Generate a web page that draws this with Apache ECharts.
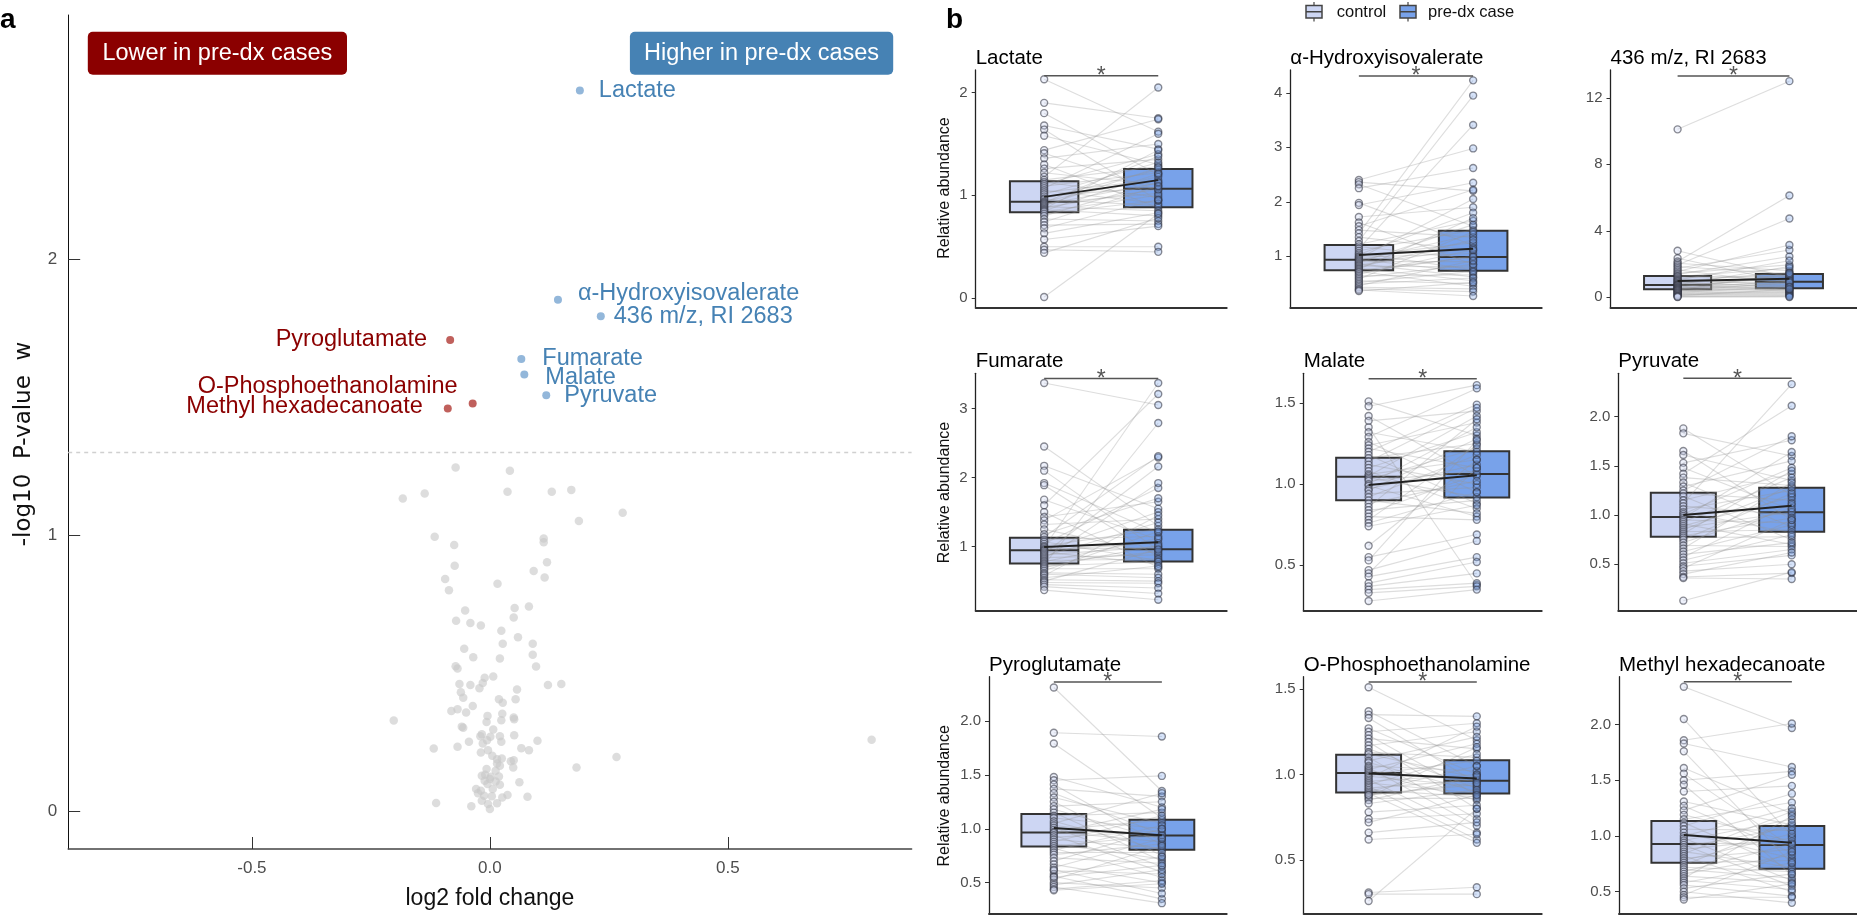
<!DOCTYPE html>
<html><head><meta charset="utf-8">
<script src="https://cdn.jsdelivr.net/npm/echarts@6/dist/echarts.min.js"></script>
<style>html,body{margin:0;padding:0;background:#fff}#c{width:1857px;height:915px}</style>
</head><body><div id="c"></div>
<script>
// ================= Panel a : volcano data =================
const otherPoints = [[-0.072,1.246],[0.042,1.234],[-0.183,1.134],[-0.137,1.152],[0.037,1.158],[0.130,1.158],[0.171,1.165],[0.279,1.082],[0.187,1.052],[-0.116,0.995],[-0.075,0.965],[0.113,0.989],[0.113,0.975],[0.120,0.902],[-0.074,0.890],[0.092,0.871],[0.115,0.847],[-0.094,0.842],[0.016,0.824],[-0.086,0.801],[-0.052,0.727],[0.052,0.736],[0.082,0.742],[0.050,0.702],[-0.071,0.690],[-0.041,0.682],[-0.019,0.673],[0.024,0.654],[0.059,0.630],[0.027,0.607],[0.090,0.607],[-0.054,0.589],[-0.035,0.558],[0.021,0.553],[0.090,0.567],[-0.072,0.525],[-0.068,0.517],[0.097,0.524],[0.007,0.488],[-0.011,0.483],[-0.064,0.461],[-0.041,0.457],[-0.022,0.445],[-0.015,0.464],[0.057,0.441],[0.122,0.457],[0.150,0.461],[-0.061,0.431],[-0.056,0.411],[0.019,0.405],[0.054,0.405],[0.027,0.393],[-0.036,0.381],[-0.068,0.369],[-0.081,0.363],[-0.050,0.357],[0.026,0.353],[-0.005,0.345],[0.050,0.339],[0.051,0.333],[-0.202,0.328],[0.024,0.329],[-0.007,0.323],[-0.059,0.306],[-0.056,0.302],[0.007,0.296],[-0.017,0.278],[-0.020,0.271],[0.001,0.269],[0.021,0.271],[0.051,0.275],[-0.006,0.257],[-0.044,0.251],[0.100,0.255],[0.024,0.251],[-0.015,0.245],[-0.068,0.233],[-0.118,0.227],[0.066,0.228],[0.082,0.220],[-0.004,0.220],[-0.019,0.212],[0.005,0.200],[0.015,0.188],[0.025,0.190],[0.050,0.184],[0.044,0.180],[0.266,0.196],[0.802,0.258],[0.015,0.172],[0.021,0.164],[0.182,0.158],[0.049,0.158],[-0.007,0.152],[0.012,0.146],[-0.010,0.131],[-0.017,0.128],[0.002,0.124],[0.019,0.125],[0.000,0.116],[-0.011,0.110],[0.012,0.107],[0.062,0.104],[-0.005,0.098],[0.021,0.095],[-0.029,0.080],[-0.019,0.073],[0.006,0.080],[0.037,0.058],[0.026,0.049],[-0.012,0.055],[0.004,0.053],[0.079,0.052],[-0.113,0.029],[-0.039,0.017],[0.000,0.007],[0.015,0.028],[-0.017,0.037],[-0.004,0.025],[-0.025,0.064]];
const sigNames = ['Lactate','α-Hydroxyisovalerate','436 m/z, RI 2683','Pyroglutamate','Fumarate','Malate','Pyruvate','O-Phosphoethanolamine','Methyl hexadecanoate'];
const sigLog2FC = [0.189,0.143,0.233,-0.0835,0.066,0.0723,0.1184,-0.0362,-0.0885];
const sigNegLog10P = [2.614,1.855,1.795,1.709,1.640,1.584,1.508,1.478,1.460];
const sigDirection = ['up','up','up','down','up','up','up','down','down'];
const pThreshold = 1.301;
const volcanoXTicks = [-0.5, 0, 0.5];
const volcanoYTicks = [0, 1, 2];

// ================= Panel b : paired box plot data =================
const panelTitles = ['Lactate','α-Hydroxyisovalerate','436 m/z, RI 2683','Fumarate','Malate','Pyruvate','Pyroglutamate','O-Phosphoethanolamine','Methyl hexadecanoate'];
const groupNames = ['control','pre-dx case'];
const controlQ1     = [0.836,0.742,0.48,0.754,0.901,0.78,0.836,0.895,0.76];
const controlMedian = [0.937,0.937,0.74,0.948,1.045,0.98,0.966,1.009,0.928];
const controlQ3     = [1.138,1.207,1.28,1.13,1.162,1.227,1.136,1.115,1.135];
const caseQ1        = [0.885,0.735,0.54,0.783,0.918,0.83,0.805,0.889,0.706];
const caseMedian    = [1.063,0.987,0.94,0.962,1.062,1.027,0.938,0.963,0.919];
const caseQ3        = [1.256,1.47,1.40,1.246,1.203,1.277,1.083,1.084,1.09];
const controlMean   = [0.985,1.023,0.98,0.996,0.994,1.0,1.006,1.006,1.01];
const caseMean      = [1.148,1.139,1.12,1.064,1.055,1.095,0.94,0.977,0.94];
const sigBarY       = [2.163,4.31,13.31,3.435,1.65,2.39,2.362,1.541,2.384];
const yAxisMin      = [-0.09,0.062,-0.6,0.072,0.22,0.028,0.216,0.188,0.306];
const yAxisMax      = [2.22,4.42,13.67,3.51,1.683,2.44,2.41,1.572,2.43];
const yTickValues   = [[0,1,2],[1,2,3,4],[0,4,8,12],[1,2,3],[0.5,1,1.5],[0.5,1,1.5,2],[0.5,1,1.5,2],[0.5,1,1.5],[0.5,1,1.5,2]];
const yTickDecimals = [0,0,0,0,1,1,1,1,1];

const lactateControl = [2.13,1.90,1.80,1.68,1.64,1.58,1.44,1.41,1.36,1.30,1.26,1.22,1.18,1.15,1.13,1.11,1.09,1.07,1.05,1.03,1.01,0.99,0.97,0.96,0.94,0.93,0.92,0.91,0.90,0.89,0.88,0.87,0.86,0.85,0.84,0.82,0.80,0.77,0.74,0.71,0.68,0.63,0.57,0.50,0.47,0.44,0.01];
const lactateCase    = [1.62,1.75,1.20,1.45,0.95,1.30,1.74,1.05,1.50,0.88,1.35,1.10,2.05,1.28,0.98,1.40,1.22,1.60,0.92,1.15,1.32,1.08,1.25,0.90,1.18,1.38,1.02,1.12,1.27,0.85,1.06,1.44,0.80,1.21,1.00,0.95,1.13,0.75,1.09,0.72,0.96,0.83,0.70,0.50,0.45,0.78,0.82];
const hivControl = [2.40,2.36,2.32,2.25,1.98,1.94,1.72,1.62,1.55,1.48,1.42,1.35,1.28,1.22,1.18,1.14,1.10,1.06,1.03,1.00,0.98,0.96,0.94,0.92,0.90,0.88,0.86,0.84,0.82,0.80,0.78,0.76,0.74,0.72,0.70,0.67,0.64,0.61,0.58,0.55,0.52,0.49,0.46,0.43,0.40,0.38,0.36];
const hivCase    = [2.98,2.20,1.55,2.62,1.20,2.35,1.90,0.85,2.22,1.35,4.23,1.10,3.95,1.65,0.95,3.41,1.48,0.75,1.80,1.25,1.05,2.05,0.70,1.40,0.90,1.58,0.62,1.15,0.80,1.30,0.55,1.70,0.98,0.45,1.00,1.12,0.66,0.85,1.45,0.50,0.72,0.60,0.92,0.40,0.35,0.27,0.52];
const mz436Control = [10.1,2.80,2.35,2.15,2.05,1.95,1.85,1.75,1.65,1.55,1.45,1.38,1.30,1.25,1.18,1.10,1.05,1.00,0.95,0.90,0.85,0.80,0.76,0.74,0.72,0.68,0.64,0.60,0.57,0.54,0.51,0.48,0.45,0.42,0.38,0.34,0.30,0.26,0.22,0.18,0.14,0.10,0.07,0.04,0.02];
const mz436Case    = [13.0,1.20,0.90,6.12,1.60,4.74,1.40,2.85,0.80,3.15,1.95,2.45,1.10,1.75,1.30,0.70,2.20,1.05,1.50,0.60,1.25,0.95,1.85,0.50,1.15,0.85,0.45,1.35,0.75,1.00,0.65,0.40,1.45,0.55,0.90,0.30,0.62,0.35,0.25,0.20,0.15,0.48,0.10,0.05,0.02];
const fumarateControl = [3.37,2.45,2.17,2.10,1.92,1.89,1.68,1.60,1.50,1.43,1.38,1.32,1.25,1.18,1.14,1.10,1.07,1.04,1.01,0.99,0.97,0.95,0.94,0.92,0.90,0.88,0.86,0.84,0.82,0.80,0.78,0.76,0.74,0.72,0.70,0.68,0.65,0.62,0.60,0.58,0.55,0.52,0.50,0.48,0.45,0.42,0.37];
const fumarateCase    = [3.05,1.30,1.55,0.95,1.20,0.85,1.10,3.21,0.70,1.65,2.29,1.40,0.90,1.70,2.31,1.15,0.80,1.85,1.25,3.37,0.98,1.05,1.50,0.75,2.16,1.00,1.35,0.88,1.92,0.82,1.12,0.93,2.79,0.78,1.02,0.68,1.22,0.60,0.55,1.45,0.72,0.50,0.96,0.47,0.40,0.32,0.23];
const malateControl = [1.51,1.48,1.42,1.39,1.35,1.32,1.29,1.26,1.24,1.22,1.20,1.18,1.16,1.14,1.12,1.10,1.08,1.06,1.05,1.04,1.03,1.02,1.00,0.99,0.97,0.96,0.94,0.92,0.90,0.88,0.86,0.84,0.82,0.80,0.78,0.76,0.74,0.62,0.55,0.53,0.47,0.45,0.43,0.39,0.37,0.35,0.33,0.28];
const malateCase    = [1.30,1.61,1.05,1.45,0.38,1.20,1.59,0.95,1.38,1.10,1.49,0.88,1.25,1.47,1.00,1.32,0.85,1.15,1.42,0.92,1.22,1.08,1.35,0.80,1.12,1.28,0.98,1.18,0.82,1.02,1.40,0.90,1.06,0.78,1.24,0.95,0.87,1.15,0.69,1.27,0.65,1.10,0.55,0.52,0.45,0.39,0.37,0.35];
const pyruvateControl = [1.88,1.83,1.65,1.61,1.53,1.48,1.42,1.38,1.33,1.29,1.25,1.22,1.19,1.15,1.12,1.09,1.06,1.03,1.01,0.99,0.97,0.95,0.93,0.91,0.89,0.87,0.85,0.83,0.81,0.79,0.77,0.75,0.72,0.69,0.66,0.63,0.60,0.57,0.54,0.51,0.48,0.46,0.43,0.40,0.37,0.36,0.13];
const pyruvateCase    = [1.20,1.60,0.95,1.35,1.76,1.05,2.11,1.30,0.88,1.55,1.80,1.15,0.75,1.42,2.33,1.00,1.25,0.82,1.48,1.10,1.64,0.92,1.38,0.70,1.18,1.03,1.28,0.85,1.45,0.97,0.78,1.22,1.07,0.68,1.33,0.90,0.72,1.12,0.80,0.65,0.59,0.95,0.50,0.62,0.41,0.35,0.42];
const pyroglutamateControl = [2.31,1.89,1.79,1.48,1.45,1.41,1.37,1.33,1.29,1.25,1.21,1.18,1.15,1.12,1.10,1.07,1.05,1.03,1.01,0.99,0.97,0.96,0.94,0.92,0.90,0.88,0.86,0.84,0.82,0.80,0.78,0.76,0.73,0.70,0.67,0.64,0.61,0.58,0.56,0.53,0.50,0.48,0.46,0.44,0.43,0.55,0.62];
const pyroglutamateCase    = [1.35,1.855,1.10,1.20,1.49,0.85,1.30,0.95,1.05,0.75,1.25,0.90,0.70,1.15,1.00,0.80,1.33,0.92,0.65,1.08,0.88,1.18,0.60,0.98,0.82,1.12,0.72,0.94,0.55,1.03,0.78,0.86,0.68,1.00,0.50,0.91,0.58,0.74,0.35,0.84,0.45,0.62,0.31,0.52,0.49,0.66,0.40];
const phosphoControl = [1.51,1.37,1.35,1.33,1.27,1.25,1.23,1.21,1.19,1.17,1.15,1.13,1.12,1.10,1.08,1.07,1.05,1.04,1.03,1.02,1.01,1.00,0.99,0.98,0.97,0.96,0.95,0.94,0.93,0.92,0.91,0.90,0.89,0.88,0.87,0.86,0.85,0.83,0.78,0.74,0.72,0.66,0.62,0.31,0.30,0.26,0.88];
const phosphoCase    = [1.20,1.05,1.34,0.95,1.00,1.30,0.88,1.15,0.80,1.25,0.92,1.10,0.98,0.74,1.22,0.90,1.02,0.70,1.18,0.96,0.85,1.08,0.93,1.28,0.66,1.00,0.89,1.12,0.62,0.97,0.87,1.05,0.60,0.94,1.16,0.86,0.99,0.91,0.82,0.77,0.88,0.72,0.65,0.34,0.30,0.80,0.95];
const methylControl = [2.34,2.05,1.86,1.83,1.76,1.61,1.56,1.50,1.46,1.40,1.31,1.27,1.23,1.19,1.15,1.12,1.09,1.06,1.03,1.00,0.98,0.96,0.94,0.92,0.90,0.88,0.86,0.84,0.82,0.80,0.78,0.76,0.74,0.72,0.70,0.68,0.66,0.64,0.62,0.60,0.58,0.56,0.53,0.50,0.47,0.45,0.43];
const methylCase    = [1.97,1.00,2.01,1.62,0.75,1.20,0.90,1.58,0.65,1.45,1.10,0.85,1.55,0.95,1.30,0.70,1.38,1.05,0.80,1.25,0.60,1.15,0.92,0.55,1.08,0.98,0.72,1.22,0.50,0.88,1.02,0.78,1.12,0.68,0.62,0.93,0.83,0.58,1.18,0.52,0.76,0.46,0.66,0.40,0.86,0.45,0.57];

const pairedControl = [lactateControl,hivControl,mz436Control,fumarateControl,malateControl,pyruvateControl,pyroglutamateControl,phosphoControl,methylControl];
const pairedCase    = [lactateCase,hivCase,mz436Case,fumarateCase,malateCase,pyruvateCase,pyroglutamateCase,phosphoCase,methylCase];

// ================= layout & style (not data) =================
const FONT = '"Liberation Sans", Arial, sans-serif';
const sigLabelOffset = [[19,0],[20,-6],[13,0],[-23,0],[21,0],[21,3],[18,0],[-15,-17],[-25,-2]];
const panelGrid = [
  {left:975.7, top:70, width:251, height:237.3},
  {left:1290.3, top:70, width:251.4, height:237.3},
  {left:1610.5, top:70, width:246, height:237.3},
  {left:975.7, top:373.3, width:251, height:237.4},
  {left:1303.7, top:373.3, width:238, height:237.4},
  {left:1618.3, top:373.3, width:238.4, height:237.4},
  {left:989, top:676.7, width:237.7, height:236.6},
  {left:1303.7, top:676.7, width:238, height:236.6},
  {left:1619, top:676.7, width:237.7, height:236.6}
];
const CTRL_FILL = '#cdd6f3', CASE_FILL = '#78a2ea';

const grids = [], xAxes = [], yAxes = [], series = [], graphics = [];

// ---------- volcano ----------
grids.push({left:68.2, top:15, width:843.4, height:836.7});
xAxes.push({gridIndex:0, type:'value', min:-0.886, max:0.886,
  axisLine:{show:true, onZero:false, lineStyle:{color:'#444', width:1.5}},
  axisTick:{show:true, inside:true, length:12, customValues:volcanoXTicks, lineStyle:{color:'#333', width:1}},
  axisLabel:{customValues:volcanoXTicks, formatter:v=>v.toFixed(1), fontSize:17, color:'#4d4d4d', margin:11, fontFamily:FONT},
  splitLine:{show:false},
  name:'log2 fold change', nameLocation:'middle', nameGap:38,
  nameTextStyle:{fontSize:23, color:'#111', fontFamily:FONT}});
yAxes.push({gridIndex:0, type:'value', min:-0.138, max:2.888,
  axisLine:{show:true, onZero:false, lineStyle:{color:'#111', width:1}},
  axisTick:{show:true, inside:true, length:12, customValues:volcanoYTicks, lineStyle:{color:'#333', width:1}},
  axisLabel:{customValues:volcanoYTicks, formatter:v=>String(v), fontSize:17, color:'#4d4d4d', margin:11, fontFamily:FONT},
  splitLine:{show:false}});
series.push({type:'scatter', xAxisIndex:0, yAxisIndex:0, data:otherPoints, symbolSize:8.5,
  itemStyle:{color:'rgba(200,200,200,0.62)', opacity:1}, silent:true,
  markLine:{silent:true, symbol:'none', label:{show:false},
    lineStyle:{type:[4,4], color:'#d0d0d0', width:1.3}, data:[{yAxis:pThreshold}]}});
series.push({type:'scatter', xAxisIndex:0, yAxisIndex:0, symbolSize:8, z:5, silent:true,
  data: sigNames.map((n,k)=>{
    const up = sigDirection[k]==='up';
    const off = sigLabelOffset[k];
    return {name:n, value:[sigLog2FC[k], sigNegLog10P[k]],
      itemStyle:{color: up ? '#93b7da' : '#c0605c', opacity:1},
      label:{show:true, formatter:n, position:[4+off[0], 4+off[1]], align: off[0]>0?'left':'right',
        verticalAlign:'middle', color: up ? '#4682b4' : '#8b0000', opacity:1, fontSize:23.5, fontFamily:FONT}};
  })});

graphics.push({type:'rect', shape:{x:87.8, y:31.7, width:259.2, height:43, r:5}, style:{fill:'#8b0000'}});
graphics.push({type:'text', x:217.4, y:53.2, style:{text:'Lower in pre-dx cases', fill:'#fff', font:'23.5px '+FONT, align:'center', verticalAlign:'middle'}});
graphics.push({type:'rect', shape:{x:629.9, y:31.7, width:263.3, height:43, r:5}, style:{fill:'#4682b4'}});
graphics.push({type:'text', x:761.5, y:53.2, style:{text:'Higher in pre-dx cases', fill:'#fff', font:'23.5px '+FONT, align:'center', verticalAlign:'middle'}});
graphics.push({type:'text', x:24, y:444, rotation:Math.PI/2, style:{text:'-log10  P-value  w', fill:'#111', font:'23px "DejaVu Sans", sans-serif', align:'center', verticalAlign:'middle'}});
graphics.push({type:'text', x:0, y:20, style:{text:'a', fill:'#000', font:'bold 28px '+FONT, align:'left', verticalAlign:'middle'}});
graphics.push({type:'text', x:946, y:20, style:{text:'b', fill:'#000', font:'bold 28px '+FONT, align:'left', verticalAlign:'middle'}});

// ---------- legend ----------
function legendIcon(x, fill){
  const w = 16, top = 5.5, h = 12.5, cx = x + w/2;
  graphics.push({type:'line', shape:{x1:cx, y1:2, x2:cx, y2:top}, style:{stroke:'#444', lineWidth:1.2}});
  graphics.push({type:'line', shape:{x1:cx, y1:top+h, x2:cx, y2:top+h+3.5}, style:{stroke:'#444', lineWidth:1.2}});
  graphics.push({type:'rect', shape:{x:x, y:top, width:w, height:h}, style:{fill:fill, stroke:'#444', lineWidth:1.5}});
  graphics.push({type:'line', shape:{x1:x, y1:top+h/2, x2:x+w, y2:top+h/2}, style:{stroke:'#444', lineWidth:1.5}});
}
legendIcon(1306, CTRL_FILL);
legendIcon(1400, CASE_FILL);
graphics.push({type:'text', x:1336.7, y:12, style:{text:groupNames[0], fill:'#111', font:'16.5px '+FONT, align:'left', verticalAlign:'middle'}});
graphics.push({type:'text', x:1428, y:12, style:{text:groupNames[1], fill:'#111', font:'16.5px '+FONT, align:'left', verticalAlign:'middle'}});

// ---------- paired box panels ----------
panelTitles.forEach((title, i) => {
  const g = panelGrid[i], gi = i + 1;
  grids.push({left:g.left, top:g.top, width:g.width, height:g.height});
  xAxes.push({gridIndex:gi, type:'value', min:0.4, max:2.6,
    axisLine:{show:true, onZero:false, lineStyle:{color:'#333', width:2}},
    axisTick:{show:false}, axisLabel:{show:false}, splitLine:{show:false}});
  yAxes.push({gridIndex:gi, type:'value', min:yAxisMin[i], max:yAxisMax[i],
    axisLine:{show:true, onZero:false, lineStyle:{color:'#222', width:1.3}},
    axisTick:{show:true, length:4, customValues:yTickValues[i], lineStyle:{color:'#333'}},
    axisLabel:{customValues:yTickValues[i], formatter:v=>v.toFixed(yTickDecimals[i]), fontSize:15, color:'#4d4d4d', margin:8, fontFamily:FONT},
    splitLine:{show:false}});

  // boxes
  series.push({type:'custom', xAxisIndex:gi, yAxisIndex:gi, silent:true, z:2,
    encode:{x:0, y:[1,2,3]},
    data:[[1, controlQ1[i], controlMedian[i], controlQ3[i], 0],[2, caseQ1[i], caseMedian[i], caseQ3[i], 1]],
    renderItem:(params, api) => {
      const x = api.value(0), hw = 0.3;
      const tl = api.coord([x-hw, api.value(3)]), br = api.coord([x+hw, api.value(1)]);
      const ml = api.coord([x-hw, api.value(2)]), mr = api.coord([x+hw, api.value(2)]);
      return {type:'group', children:[
        {type:'rect', shape:{x:tl[0], y:tl[1], width:br[0]-tl[0], height:br[1]-tl[1]},
          style:{fill: api.value(4) ? CASE_FILL : CTRL_FILL, stroke:'#333', lineWidth:2}},
        {type:'line', shape:{x1:ml[0], y1:ml[1], x2:mr[0], y2:mr[1]}, style:{stroke:'#333', lineWidth:2}}
      ]};
    }});
  // paired lines
  const ctrl = pairedControl[i], cas = pairedCase[i];
  series.push({type:'custom', xAxisIndex:gi, yAxisIndex:gi, silent:true, z:3,
    encode:{x:[0,2], y:[1,3]},
    data: ctrl.map((c,k)=>[1, c, 2, cas[k]]),
    renderItem:(params, api) => {
      const a = api.coord([api.value(0), api.value(1)]), b = api.coord([api.value(2), api.value(3)]);
      return {type:'line', shape:{x1:a[0], y1:a[1], x2:b[0], y2:b[1]}, style:{stroke:'rgba(150,150,150,0.32)', lineWidth:1.1}};
    }});
  // points
  series.push({type:'scatter', xAxisIndex:gi, yAxisIndex:gi, silent:true, z:4, symbolSize:7,
    data: ctrl.map(c=>[1,c]),
    itemStyle:{color:'rgba(205,214,243,0.35)', borderColor:'rgba(45,48,60,0.55)', borderWidth:1.4, opacity:1}});
  series.push({type:'scatter', xAxisIndex:gi, yAxisIndex:gi, silent:true, z:4, symbolSize:7,
    data: cas.map(c=>[2,c]),
    itemStyle:{color:'rgba(120,162,234,0.3)', borderColor:'rgba(45,48,60,0.55)', borderWidth:1.4, opacity:1}});
  // mean line
  series.push({type:'line', xAxisIndex:gi, yAxisIndex:gi, silent:true, z:5, symbol:'none',
    data:[[1, controlMean[i]],[2, caseMean[i]]], lineStyle:{color:'#222', width:2}});
  // significance bar
  series.push({type:'custom', xAxisIndex:gi, yAxisIndex:gi, silent:true, z:6,
    encode:{x:[0,1], y:2},
    data:[[1, 2, sigBarY[i]]],
    renderItem:(params, api) => {
      const a = api.coord([api.value(0), api.value(2)]), b = api.coord([api.value(1), api.value(2)]);
      return {type:'group', children:[
        {type:'line', shape:{x1:a[0], y1:a[1], x2:b[0], y2:b[1]}, style:{stroke:'#555', lineWidth:1.5}},
        {type:'text', x:(a[0]+b[0])/2, y:a[1]+1, style:{text:'*', fill:'#555', font:'23px '+FONT, align:'center', verticalAlign:'middle'}}
      ]};
    }});

  graphics.push({type:'text', x:g.left, y:g.top-11.5, style:{text:title, fill:'#000', font:'20.5px '+FONT, align:'left', verticalAlign:'middle'}});
});
[188, 492.5, 795.8].forEach(y => {
  graphics.push({type:'text', x:945, y:y, rotation:Math.PI/2, style:{text:'Relative abundance', fill:'#111', font:'16px '+FONT, align:'center', verticalAlign:'middle'}});
});

const chart = echarts.init(document.getElementById('c'), null, {renderer:'canvas'});
chart.setOption({
  animation:false,
  backgroundColor:'#ffffff',
  textStyle:{fontFamily:FONT},
  grid:grids, xAxis:xAxes, yAxis:yAxes, series:series,
  graphic:{elements:graphics}
});
</script>
</body></html>
